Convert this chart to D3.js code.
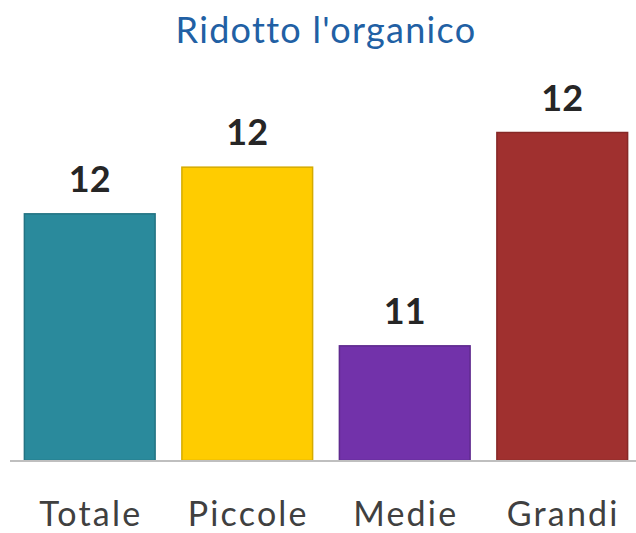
<!DOCTYPE html>
<html>
<head>
<meta charset="utf-8">
<script src="https://cdn.jsdelivr.net/npm/d3@7"></script>
<style>
  body { margin: 0; background: #fff; }
  svg { display: block; }
</style>
</head>
<body>
<svg id="chart" width="636" height="533"></svg>
<script>
// chart data
const categories = ["Totale", "Piccole", "Medie", "Grandi"];
const values = [11.85, 12.2, 10.86, 12.46];
const barColors = ["#2a8a9c", "#ffcc00", "#7232aa", "#a0302f"];
const titleText = "Ridotto l'organico";

const svg = d3.select("#chart");
const baseY = 460.5;

// scales - the axis does not start at zero in the original
const xScale = d3.scaleBand()
    .domain(categories)
    .range([11, 641])
    .paddingInner(0.17)
    .paddingOuter(0.085);

const yScale = d3.scaleLinear()
    .domain([10, 13])
    .range([baseY, 60.5]);

// title
svg.append("text")
    .attr("x", 326)
    .attr("y", 43)
    .attr("text-anchor", "middle")
    .style("font-family", "Lato, 'Open Sans', sans-serif")
    .style("font-size", "36px")
    .style("letter-spacing", "1.3px")
    .style("fill", "#2160a4")
    .text(titleText);

// bars
svg.selectAll(".bar")
    .data(categories)
    .enter()
    .append("rect")
    .attr("class", "bar")
    .attr("x", d => xScale(d))
    .attr("y", (d, i) => yScale(values[i]))
    .attr("width", xScale.bandwidth())
    .attr("height", (d, i) => baseY - yScale(values[i]))
    .attr("fill", (d, i) => barColors[i])
    .attr("stroke", (d, i) => d3.color(barColors[i]).darker(0.5))
    .attr("stroke-width", 1.5);

// baseline
svg.append("line")
    .attr("x1", 10)
    .attr("x2", 636)
    .attr("y1", baseY + 0.5)
    .attr("y2", baseY + 0.5)
    .attr("stroke", "#bfbfbf")
    .attr("stroke-width", 2);

// value labels
const fmt = d3.format(".0f");
svg.selectAll(".valLabel")
    .data(categories)
    .enter()
    .append("text")
    .attr("class", "valLabel")
    .attr("x", d => xScale(d) + xScale.bandwidth() / 2)
    .attr("y", (d, i) => yScale(values[i]) - 22)
    .attr("text-anchor", "middle")
    .style("font-family", "Lato, 'Open Sans', sans-serif")
    .style("font-weight", "bold")
    .style("font-size", "36px")
    .style("fill", "#262626")
    .text((d, i) => fmt(values[i]));

// category labels
const xAxis = d3.axisBottom(xScale).tickSize(0).tickPadding(0);
const axisG = svg.append("g")
    .attr("transform", "translate(0,526)")
    .call(xAxis);
axisG.select(".domain").remove();
axisG.selectAll("text")
    .attr("dy", 0)
    .attr("dx", 1)
    .style("font-family", "Lato, 'Open Sans', sans-serif")
    .style("font-size", "34px")
    .style("letter-spacing", "2.2px")
    .style("fill", "#404040");
</script>
</body>
</html>
